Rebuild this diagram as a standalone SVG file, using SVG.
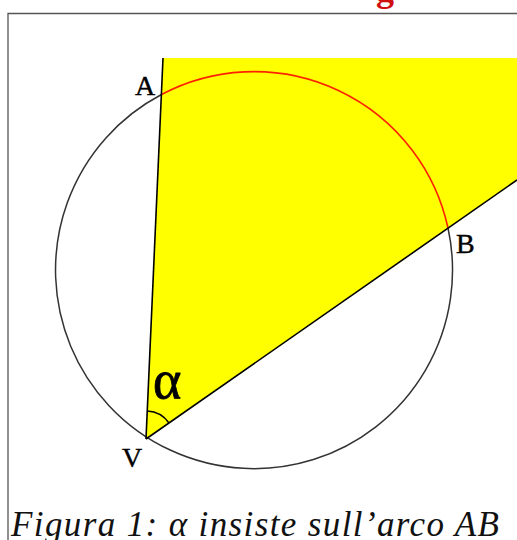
<svg xmlns="http://www.w3.org/2000/svg" width="517" height="540" viewBox="0 0 517 540">
<style>
.lbl{font-family:"Liberation Serif",serif;font-size:28px;fill:#000;stroke:#000;stroke-width:0.4}
.ln{stroke:#000;stroke-width:1.6;fill:none}
</style>
<rect width="517" height="540" fill="#fff"/>
<text x="376" y="1" style="font-family:'Liberation Serif',serif;font-weight:bold;font-size:36px;fill:#d01010">g</text>
<path d="M8,540 V13.5 H517" fill="none" stroke="#555" stroke-width="1.3"/>
<g id="sector">
<polygon points="163,58 517,58 517,180 146,439" fill="#ffff00"/>
</g>
<g id="circle">
<path d="M448,228 A198.5,198.5 0 1 1 161.5,94.5" fill="none" stroke="#333" stroke-width="1.5"/>
<path d="M161.5,94.5 A198.5,198.5 0 0 1 448,228" fill="none" stroke="#ff2200" stroke-width="1.6"/>
</g>
<g id="connectors">
<line class="ln" x1="163" y1="58" x2="146" y2="439"/>
<line class="ln" x1="146" y1="439" x2="517" y2="180"/>
<path class="ln" d="M147.3,411 A28,28 0 0 1 169,423" stroke-width="1.4"/>
</g>
<g id="A"><text class="lbl" x="135" y="95">A</text></g>
<g id="B"><text class="lbl" x="456" y="253">B</text></g>
<g id="V"><text class="lbl" x="122" y="467">V</text></g>
<g id="alpha"><text x="153" y="398" style="font-family:'Liberation Serif',serif;font-size:54px;stroke:#000;stroke-width:0.8">α</text></g>
<text x="11" y="536" textLength="488" lengthAdjust="spacing" style="font-family:'Liberation Serif',serif;font-style:italic;font-size:35px;fill:#111">Figura 1: α insiste sull’arco AB</text>
</svg>
